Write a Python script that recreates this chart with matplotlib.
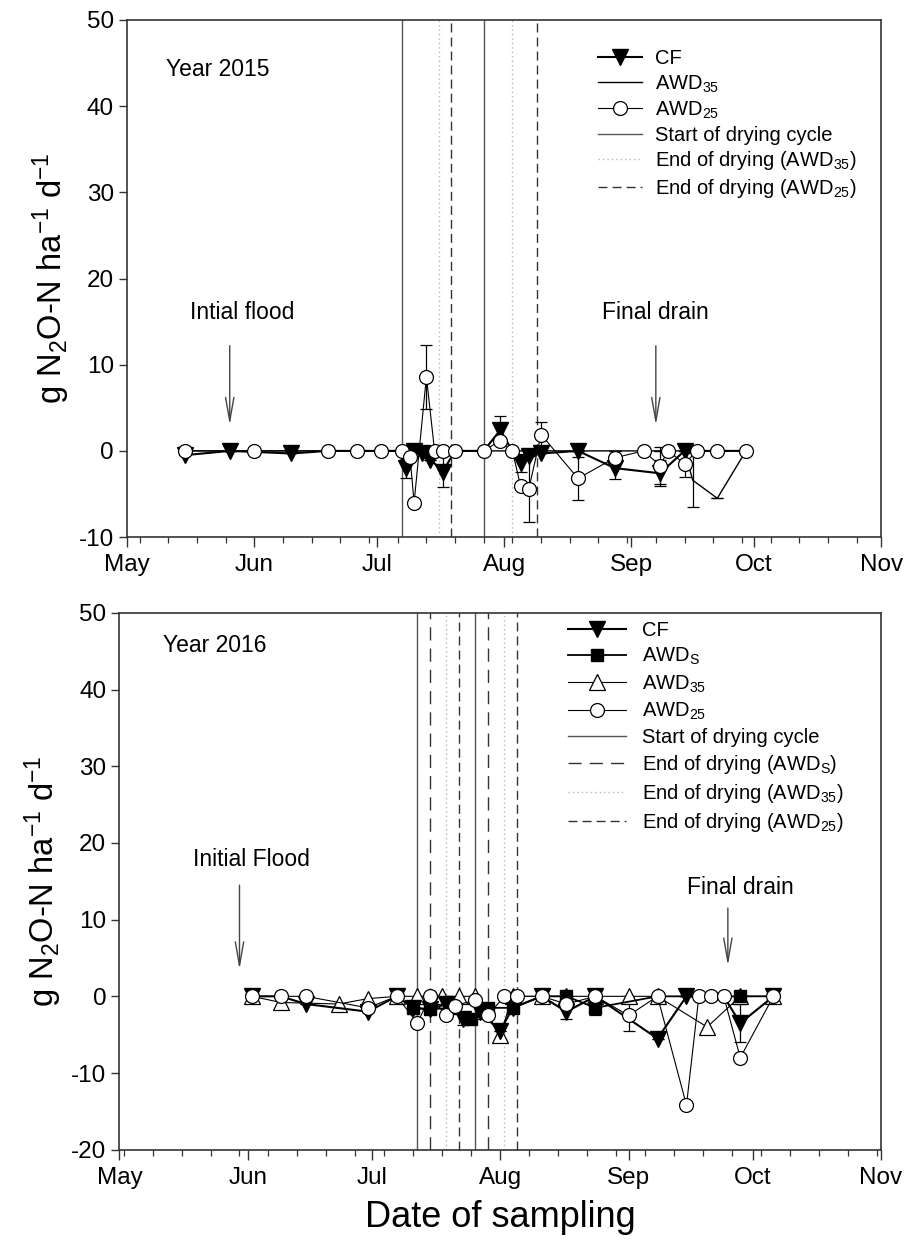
import matplotlib
matplotlib.use("Agg")
import matplotlib.pyplot as plt
import matplotlib.dates as mdates
from matplotlib.lines import Line2D
import pandas as pd

plt.rcParams['font.family'] = ['Liberation Sans', 'DejaVu Sans']
plt.rcParams['axes.unicode_minus'] = False
plt.rcParams['mathtext.fontset'] = 'custom'
plt.rcParams['mathtext.rm'] = 'Liberation Sans'
plt.rcParams['mathtext.it'] = 'Liberation Sans'
plt.rcParams['mathtext.default'] = 'regular'

# ---------------- 2015 data ----------------
cf15_dates = ["2015-05-15", "2015-05-26", "2015-06-10", "2015-06-19", "2015-06-26", "2015-07-02",
              "2015-07-07", "2015-07-08", "2015-07-10", "2015-07-12", "2015-07-14", "2015-07-17",
              "2015-07-20", "2015-07-27", "2015-07-31", "2015-08-03", "2015-08-05", "2015-08-07",
              "2015-08-10", "2015-08-19", "2015-08-28", "2015-09-08", "2015-09-14", "2015-09-17",
              "2015-09-22", "2015-09-29"]
cf15_vals = [-0.5, 0.0, -0.3, 0.0, 0.0, 0.0, 0.0, -2.0, 0.0, -0.3, -1.0, -2.4, 0.0, 0.0, 2.4, 0.0,
             -1.4, -0.6, -0.3, 0.0, -2.0, -2.6, 0.0, 0.0, 0.0, 0.0]
cf15_err = [0, 0, 0, 0, 0, 0, 0, 1.1, 0, 0, 0, 1.8, 0, 0, 1.6, 0, 1.0, 0, 0, 0, 1.3, 1.5, 0, 0, 0, 0]
# sampling days whose CF symbol is covered by the AWD25 circle in the original
cf15_hidden = ["2015-06-19", "2015-06-26", "2015-07-02", "2015-07-07", "2015-07-20", "2015-07-27",
               "2015-08-03", "2015-09-17", "2015-09-22", "2015-09-29"]

awd35_15_dates = ["2015-05-15", "2015-05-26", "2015-06-10", "2015-07-02", "2015-07-09", "2015-07-13",
                  "2015-07-17", "2015-07-27", "2015-08-03", "2015-08-10", "2015-08-19", "2015-08-28",
                  "2015-09-08", "2015-09-14", "2015-09-16", "2015-09-22", "2015-09-29"]
awd35_15_vals = [0.0, 0.0, 0.0, 0.0, 0.0, 0.0, 0.0, 0.0, 0.0, 0.0, 0.0, 0.0, 0.0, 0.0, -3.4, -5.5, 0.0]
awd35_15_err = [0, 0, 0, 0, 0, 0, 0, 0, 0, 0, 0, 0, 0, 0, 3.1, 0, 0]

awd25_15_dates = ["2015-05-15", "2015-06-01", "2015-06-19", "2015-06-26", "2015-07-02", "2015-07-07",
                  "2015-07-09", "2015-07-10", "2015-07-13", "2015-07-15", "2015-07-17", "2015-07-20",
                  "2015-07-27", "2015-07-31", "2015-08-03", "2015-08-05", "2015-08-07", "2015-08-10",
                  "2015-08-19", "2015-08-28", "2015-09-04", "2015-09-08", "2015-09-10", "2015-09-14",
                  "2015-09-17", "2015-09-22", "2015-09-29"]
awd25_15_vals = [0.0, 0.0, 0.0, 0.0, 0.0, 0.0, -0.7, -6.0, 8.6, 0.0, 0.0, 0.0, 0.0, 1.2, 0.0, -4.1,
                 -4.4, 1.9, -3.2, -0.8, 0.0, -1.7, 0.0, -1.5, 0.0, 0.0, 0.0]
awd25_15_err = [0, 0, 0, 0, 0, 0, 0, 0, 3.7, 0, 0, 0, 0, 0, 0, 0, 3.9, 1.4, 2.5, 0, 0, 2.2, 0, 1.5,
                0, 0, 0]

start15 = ["2015-07-07", "2015-07-27"]
end35_15 = ["2015-07-16", "2015-08-03"]
end25_15 = ["2015-07-19", "2015-08-09"]

# ---------------- 2016 data ----------------
cf16_dates = ["2016-06-02", "2016-06-09", "2016-06-15", "2016-06-30", "2016-07-07", "2016-07-11",
              "2016-07-15", "2016-07-19", "2016-07-23", "2016-07-27", "2016-08-01", "2016-08-04",
              "2016-08-11", "2016-08-17", "2016-08-24", "2016-09-08", "2016-09-15", "2016-09-24",
              "2016-09-28", "2016-10-06"]
cf16_vals = [0.0, 0.0, -1.0, -2.0, 0.0, -1.5, -1.7, -1.0, -3.0, -2.0, -4.5, -1.5, 0.0, -2.0, 0.0,
             -5.5, 0.0, 0.0, -3.5, 0.0]
cf16_err = [0, 0, 0, 0, 0, 0, 0, 0, 0.8, 1.0, 0, 0, 0, 1.0, 0, 0, 0, 0, 2.5, 0]
cf16_hidden = ["2016-06-09", "2016-09-24"]

awds16_dates = ["2016-07-11", "2016-07-15", "2016-07-20", "2016-07-25", "2016-07-29", "2016-08-04",
                "2016-08-11", "2016-08-17", "2016-08-24", "2016-09-08", "2016-09-15", "2016-09-24",
                "2016-09-28", "2016-10-06"]
awds16_vals = [-1.5, -1.7, -1.5, -3.0, -1.5, -1.5, 0.0, 0.0, -1.5, 0.0, 0.0, 0.0, 0.0, 0.0]
awds16_err = [0, 0, 0, 0, 0, 0, 0, 0, 1.0, 0, 0, 0, 0, 0]
awds16_hidden = ["2016-08-11", "2016-09-08", "2016-09-15", "2016-09-24", "2016-10-06"]

awd35_16_dates = ["2016-06-02", "2016-06-09", "2016-06-23", "2016-06-30", "2016-07-07", "2016-07-12",
                  "2016-07-18", "2016-07-22", "2016-07-26", "2016-08-01", "2016-08-04", "2016-08-11",
                  "2016-08-17", "2016-08-24", "2016-09-01", "2016-09-08", "2016-09-20", "2016-09-28",
                  "2016-10-06"]
awd35_16_vals = [0.0, -0.8, -1.0, -0.3, 0.0, 0.0, 0.0, 0.0, 0.0, -5.0, 0.0, 0.0, 0.0, 0.0, 0.0, 0.0,
                 -4.0, 0.0, 0.0]

awd25_16_dates = ["2016-06-02", "2016-06-09", "2016-06-15", "2016-06-30", "2016-07-07", "2016-07-12",
                  "2016-07-15", "2016-07-19", "2016-07-21", "2016-07-26", "2016-07-29", "2016-08-02",
                  "2016-08-05", "2016-08-11", "2016-08-17", "2016-08-24", "2016-09-01", "2016-09-08",
                  "2016-09-15", "2016-09-18", "2016-09-21", "2016-09-24", "2016-09-28", "2016-10-06"]
awd25_16_vals = [0.0, 0.0, 0.0, -1.5, 0.0, -3.5, 0.0, -2.5, -1.2, -0.5, -2.5, 0.0, 0.0, 0.0, -1.0,
                 0.0, -2.5, 0.0, -14.2, 0.0, 0.0, 0.0, -8.0, 0.0]
awd25_16_err = [0, 0, 0, 0, 0, 0, 0, 0, 0, 0, 0, 0, 0, 0, 0, 0, 2.0, 0, 0, 0, 0, 0, 0, 0]

start16 = ["2016-07-12", "2016-07-26"]
endS16 = ["2016-07-15", "2016-07-29"]
end35_16 = ["2016-07-19", "2016-08-02"]
end25_16 = ["2016-07-22", "2016-08-05"]

# ---------------- styles ----------------
C_START = "#555555"
C_DOT = "#b4b4b4"
C_DASH = "#333333"
LS_DOT = (0, (1.0, 2.2))
LS_SHORT = (0, (6.5, 3.6))
LS_LONG = (0, (9.5, 5.8))
TICK_FS = 17.5
ANN_FS = 16.5
LEG_FS = 14.5
ARROW = dict(arrowstyle="->,head_length=1.7,head_width=0.3", color="#444444", lw=1.0,
             shrinkA=0, shrinkB=0)


def d(lst):
    return pd.to_datetime(lst)


def shown(dates, hidden):
    hid = set(hidden)
    return [i for i, s in enumerate(dates) if s not in hid]


def style_axes(ax, year, ylim, yticks):
    ax.set_xlim(pd.Timestamp(f"{year}-05-01"), pd.Timestamp(f"{year}-11-01"))
    ax.set_ylim(*ylim)
    ax.set_yticks(yticks)
    ax.xaxis.set_major_locator(mdates.MonthLocator())
    ax.xaxis.set_major_formatter(mdates.DateFormatter("%b"))
    ax.xaxis.set_minor_locator(mdates.WeekdayLocator(byweekday=mdates.MO))
    ax.tick_params(axis='x', which='major', length=7.5, width=1.0, labelsize=TICK_FS, pad=5,
                   color="#333333")
    ax.tick_params(axis='x', which='minor', length=4.5, width=0.9, color="#333333")
    ax.tick_params(axis='y', which='major', length=6, width=1.0, labelsize=TICK_FS,
                   color="#333333")
    for s in ax.spines.values():
        s.set_linewidth(1.2)
        s.set_color("#333333")
    ax.set_ylabel("g N$_2$O-N ha$^{-1}$ d$^{-1}$", fontsize=23.5, labelpad=5)


def drying_lines(ax, groups):
    for dates, color, lw, ls in groups:
        for x in d(dates):
            ax.axvline(x, color=color, lw=lw, ls=ls, zorder=1)


fig = plt.figure(figsize=(9.12, 12.49), dpi=100)
ax1 = fig.add_axes([0.1396, 0.570, 0.8266, 0.414])
ax2 = fig.add_axes([0.1310, 0.0795, 0.8350, 0.4298])

# ---------------- top panel ----------------
drying_lines(ax1, [(start15, C_START, 1.0, '-'), (end35_15, C_DOT, 1.0, LS_DOT),
                   (end25_15, C_DASH, 1.0, LS_SHORT)])

for dates, vals, err in [(awd25_15_dates, awd25_15_vals, awd25_15_err),
                         (cf15_dates, cf15_vals, cf15_err),
                         (awd35_15_dates, awd35_15_vals, awd35_15_err)]:
    ax1.errorbar(d(dates), vals, yerr=err, fmt='none', ecolor='black', elinewidth=0.9,
                 capsize=4.5, capthick=0.9, zorder=2)
ax1.plot(d(awd35_15_dates), awd35_15_vals, color='black', lw=1.0, zorder=3)
ax1.plot(d(cf15_dates), cf15_vals, color='black', lw=1.5, marker='v', ms=12,
         mfc='black', mec='black', markevery=shown(cf15_dates, cf15_hidden), zorder=4)
ax1.plot(d(awd25_15_dates), awd25_15_vals, color='black', lw=0.8, marker='o', ms=10,
         mfc='white', mec='black', mew=0.9, zorder=5)

style_axes(ax1, 2015, (-10, 50), range(-10, 51, 10))
ax1.text(0.051, 0.905, "Year 2015", transform=ax1.transAxes, fontsize=ANN_FS, va='center')
ax1.annotate("", xy=(pd.Timestamp("2015-05-26"), 3.0), xytext=(pd.Timestamp("2015-05-26"), 12.2),
             arrowprops=ARROW)
ax1.text(pd.Timestamp("2015-05-29"), 16.0, "Intial flood", fontsize=ANN_FS, ha='center', va='center')
ax1.annotate("", xy=(pd.Timestamp("2015-09-07"), 3.0), xytext=(pd.Timestamp("2015-09-07"), 12.2),
             arrowprops=ARROW)
ax1.text(pd.Timestamp("2015-09-07"), 16.0, "Final drain", fontsize=ANN_FS, ha='center', va='center')

h1 = [
    Line2D([], [], color='black', lw=1.5, marker='v', ms=12, mfc='black'),
    Line2D([], [], color='black', lw=1.0),
    Line2D([], [], color='black', lw=0.8, marker='o', ms=10, mfc='white', mew=0.9),
    Line2D([], [], color=C_START, lw=1.0),
    Line2D([], [], color=C_DOT, lw=1.0, ls=LS_DOT),
    Line2D([], [], color=C_DASH, lw=1.0, ls=LS_SHORT),
]
l1 = ["CF", "AWD$_{35}$", "AWD$_{25}$", "Start of drying cycle",
      "End of drying (AWD$_{35}$)", "End of drying (AWD$_{25}$)"]
ax1.legend(h1, l1, loc='upper left', bbox_to_anchor=(0.624, 0.943), frameon=False,
           fontsize=LEG_FS, handlelength=2.2, handletextpad=0.65, labelspacing=0.24,
           borderaxespad=0.0, borderpad=0.0)

# ---------------- bottom panel ----------------
drying_lines(ax2, [(start16, C_START, 1.0, '-'), (endS16, C_DASH, 1.0, LS_LONG),
                   (end35_16, C_DOT, 1.0, LS_DOT), (end25_16, C_DASH, 1.0, LS_SHORT)])

for dates, vals, err in [(cf16_dates, cf16_vals, cf16_err), (awds16_dates, awds16_vals, awds16_err),
                         (awd25_16_dates, awd25_16_vals, awd25_16_err)]:
    ax2.errorbar(d(dates), vals, yerr=err, fmt='none', ecolor='black', elinewidth=0.9,
                 capsize=4.5, capthick=0.9, zorder=2)
ax2.plot(d(awd35_16_dates), awd35_16_vals, color='black', lw=0.8, marker='^', ms=12,
         mfc='white', mec='black', mew=0.9, zorder=3)
ax2.plot(d(cf16_dates), cf16_vals, color='black', lw=1.5, marker='v', ms=12,
         mfc='black', mec='black', markevery=shown(cf16_dates, cf16_hidden), zorder=4)
ax2.plot(d(awds16_dates), awds16_vals, color='black', lw=1.3, marker='s', ms=8,
         mfc='black', mec='black', markevery=shown(awds16_dates, awds16_hidden), zorder=4)
ax2.plot(d(awd25_16_dates), awd25_16_vals, color='black', lw=0.8, marker='o', ms=10,
         mfc='white', mec='black', mew=0.9, zorder=5)

style_axes(ax2, 2016, (-20, 50), range(-20, 51, 10))
ax2.text(0.057, 0.939, "Year 2016", transform=ax2.transAxes, fontsize=ANN_FS, va='center')
ax2.annotate("", xy=(pd.Timestamp("2016-05-30"), 3.5), xytext=(pd.Timestamp("2016-05-30"), 14.5),
             arrowprops=ARROW)
ax2.text(pd.Timestamp("2016-06-02"), 17.8, "Initial Flood", fontsize=ANN_FS, ha='center', va='center')
ax2.annotate("", xy=(pd.Timestamp("2016-09-25"), 4.0), xytext=(pd.Timestamp("2016-09-25"), 11.5),
             arrowprops=ARROW)
ax2.text(pd.Timestamp("2016-09-28"), 14.2, "Final drain", fontsize=ANN_FS, ha='center', va='center')

h2 = [
    Line2D([], [], color='black', lw=1.5, marker='v', ms=12, mfc='black'),
    Line2D([], [], color='black', lw=1.3, marker='s', ms=8, mfc='black'),
    Line2D([], [], color='black', lw=0.8, marker='^', ms=12, mfc='white', mew=0.9),
    Line2D([], [], color='black', lw=0.8, marker='o', ms=10, mfc='white', mew=0.9),
    Line2D([], [], color=C_START, lw=1.0),
    Line2D([], [], color=C_DASH, lw=1.0, ls=LS_LONG),
    Line2D([], [], color=C_DOT, lw=1.0, ls=LS_DOT),
    Line2D([], [], color=C_DASH, lw=1.0, ls=LS_SHORT),
]
l2 = ["CF", "AWD$_S$", "AWD$_{35}$", "AWD$_{25}$", "Start of drying cycle",
      "End of drying (AWD$_S$)", "End of drying (AWD$_{35}$)", "End of drying (AWD$_{25}$)"]
ax2.legend(h2, l2, loc='upper left', bbox_to_anchor=(0.589, 0.985), frameon=False,
           fontsize=LEG_FS, handlelength=2.9, handletextpad=0.75, labelspacing=0.30,
           borderaxespad=0.0, borderpad=0.0)

ax2.set_xlabel("Date of sampling", fontsize=26, labelpad=8)

fig.savefig("out.png", dpi=100)
